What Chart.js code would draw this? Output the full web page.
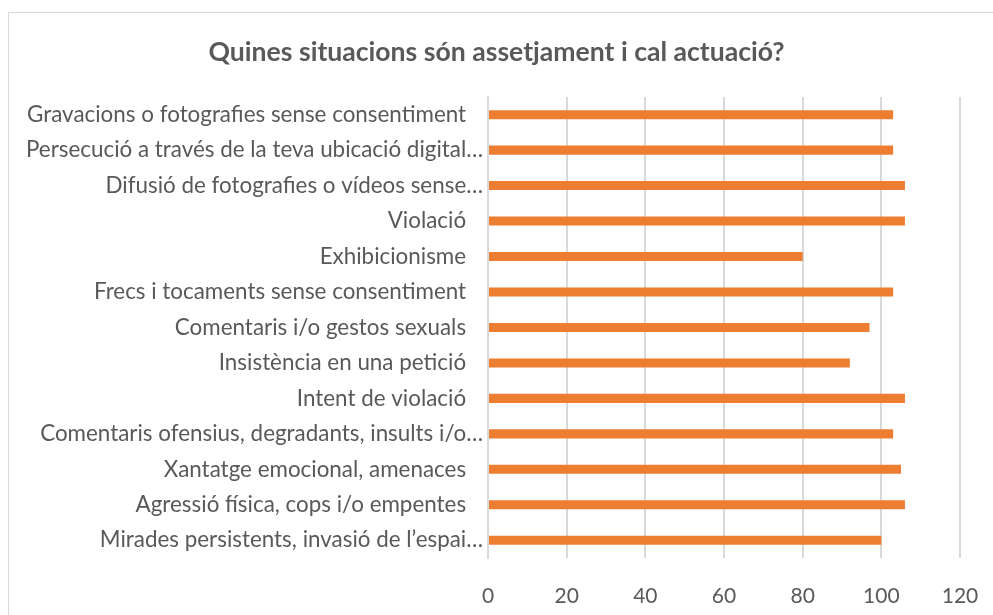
<!DOCTYPE html>
<html>
<head>
<meta charset="utf-8">
<script src="https://cdn.jsdelivr.net/npm/chart.js@4.4.0/dist/chart.umd.min.js"></script>
<style>
    html, body { margin: 0; padding: 0; background: #fff; }
    #wrap { position: relative; width: 993px; height: 615px; overflow: hidden; }
    #frame { position: absolute; left: 8px; top: 12px; width: 1000px; height: 700px; border: 1px solid #d9d9d9; box-sizing: border-box; }
    #chart { position: absolute; left: 0; top: 0; }
</style>
</head>
<body>
<div id="wrap">
    <div id="frame"></div>
    <canvas id="chart" width="993" height="615"></canvas>
</div>
<script>
// Dades del gràfic
const titol = 'Quines situacions són assetjament i cal actuació?';

const situacions = [
    'Gravacions o fotografies sense consentiment',
    'Persecució a través de la teva ubicació digital…',
    'Difusió de fotografies o vídeos sense…',
    'Violació',
    'Exhibicionisme',
    'Frecs i tocaments sense consentiment',
    'Comentaris i/o gestos sexuals',
    'Insistència en una petició',
    'Intent de violació',
    'Comentaris ofensius, degradants, insults i/o…',
    'Xantatge emocional, amenaces',
    'Agressió física, cops i/o empentes',
    'Mirades persistents, invasió de l’espai…'
];

const respostes = [103, 103, 106, 106, 80, 103, 97, 92, 106, 103, 105, 106, 100];

const ticksX = [0, 20, 40, 60, 80, 100, 120];

const gris = '#595959';
const taronja = '#ED7D31';
const graella = '#d9d9d9';

const grafic = new Chart(document.getElementById('chart'), {
    type: 'bar',
    data: {
        labels: situacions,
        datasets: [{
            label: 'Respostes',
            data: respostes,
            backgroundColor: taronja,
            borderWidth: 0,
            categoryPercentage: 1,
            barPercentage: 0.255
        }]
    },
    options: {
        indexAxis: 'y',
        responsive: false,
        animation: false,
        layout: { padding: 0 },
        plugins: {
            legend: { display: false },
            tooltip: { enabled: false },
            title: {
                display: true,
                text: titol,
                color: gris,
                font: { family: 'Lato', size: 26.6, weight: 'bold' },
                padding: { top: 36, bottom: 29 }
            }
        },
        scales: {
            x: {
                min: ticksX[0],
                max: ticksX[ticksX.length - 1],
                afterBuildTicks: scale => { scale.ticks = ticksX.map(v => ({ value: v })); },
                afterFit: scale => {
                    scale.height = 57;
                    scale.paddingLeft = 0;
                    scale.paddingRight = 33;
                },
                grid: { color: graella, lineWidth: 2, drawTicks: false },
                border: { display: false },
                ticks: {
                    color: gris,
                    padding: 26,
                    font: { family: 'Lato', size: 21 }
                }
            },
            y: {
                afterFit: scale => { scale.width = 488; },
                grid: { display: false, drawTicks: false },
                border: { display: true, color: graella, width: 2 },
                ticks: {
                    color: gris,
                    padding: 5,
                    font: { family: 'Lato', size: 22.4 },
                    // les etiquetes senceres queden una mica més a l'esquerra
                    callback: function (value) {
                        const text = this.getLabelForValue(value);
                        return text.endsWith('…') ? text : text + '\u2002 ';
                    }
                }
            }
        }
    }
});
</script>
</body>
</html>
